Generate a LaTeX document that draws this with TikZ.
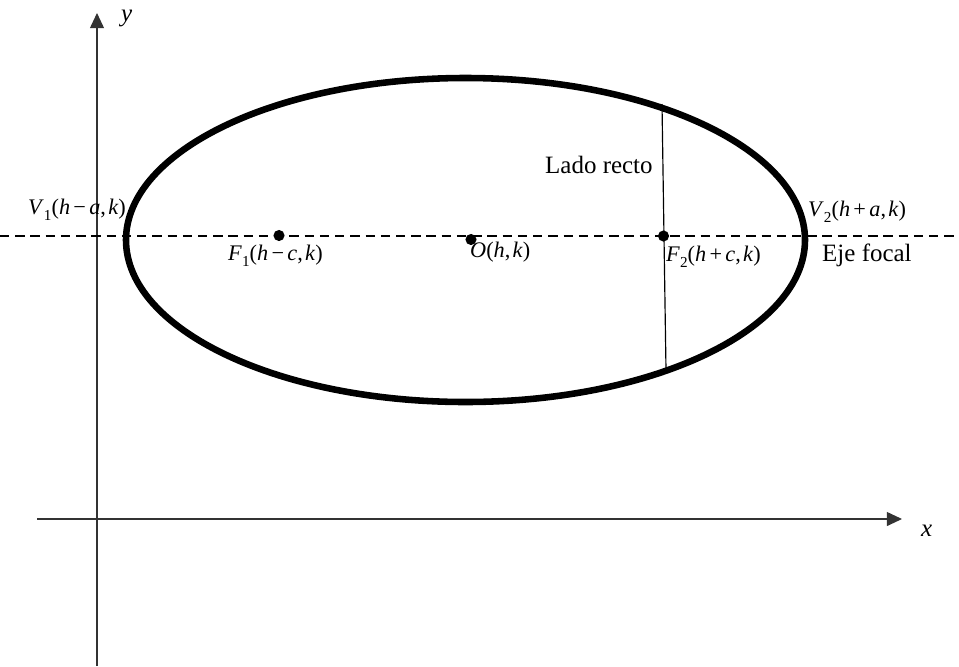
\documentclass[tikz,border=0pt]{standalone}
\usepackage{fontspec}
\setmainfont{Liberation Serif}
\usetikzlibrary{arrows.meta}
\newcommand{\mysub}[1]{\raisebox{-0.28em}{\fontsize{13}{14}\selectfont #1}}
\newcommand{\lab}[4]{\textit{#1}\mysub{#2}(\textit{h}\hspace{0.15em}#3\hspace{0.15em}\textit{#4},\hspace{0.1em}\textit{k})}
\tikzset{
  axis/.style={draw=black!80, line width=1pt, -{Triangle[length=13pt,width=12pt]}},
  focal/.style={draw=black, line width=0.9pt, dash pattern=on 8pt off 5pt},
  curve/.style={draw=black, line width=5.6pt},
  thinline/.style={draw=black, line width=1pt},
  pt/.style={circle, fill=black, inner sep=0pt, minimum size=9.5pt},
  mathlab/.style={font=\fontsize{19}{21}\selectfont, inner sep=0pt},
  txt/.style={font=\fontsize{21.3}{24}\selectfont, inner sep=0pt},
}
\begin{document}
\begin{tikzpicture}[x=0.03cm, y=-0.03cm]
\useasboundingbox (0,0) rectangle (959,666);
% axes
\coordinate (ybot) at (97,666);
\coordinate (ytop) at (97,13);
\coordinate (xleft) at (37,519);
\coordinate (xright) at (902,519);
\draw[axis] (ybot) -- (ytop);
\draw[axis] (xleft) -- (xright);
\node[txt, anchor=base west] (ylab) at (121,21) {\textit{y}};
\node[txt, anchor=base west] (xlab) at (921,536) {\textit{x}};
% focal axis
\coordinate (fl) at (0,236);
\coordinate (fr) at (959,236);
\draw[focal] (fl) -- (fr);
% ellipse
\coordinate (C) at (465.5,240);
\draw[curve] (C) ellipse [x radius=339.5, y radius=162];
% latus rectum
\coordinate (lrtop) at (662,104);
\coordinate (lrbot) at (666,370);
\draw[thinline] (lrtop) -- (lrbot);
% points
\node[pt] (F1) at (279,235.5) {};
\node[pt] (O) at (471,239.5) {};
\node[pt] (F2) at (663.5,236) {};
% labels
\node[mathlab, anchor=base west] (V1lab) at (28,214) {\lab{V}{1}{−}{a}};
\node[mathlab, anchor=base west] (F1lab) at (228,260) {\lab{F}{1}{−}{c}};
\node[mathlab, anchor=base west] (Olab) at (470,257) {\textit{O}(\textit{h},\hspace{0.1em}\textit{k})};
\node[mathlab, anchor=base west] (F2lab) at (666,261) {\lab{F}{2}{+}{c}};
\node[mathlab, anchor=base west] (V2lab) at (808,216) {\lab{V}{2}{+}{a}};
\node[txt, anchor=base west] (eje) at (822,261) {Eje focal};
\node[txt, anchor=base west] (lado) at (545,173) {Lado recto};
\end{tikzpicture}
\end{document}
